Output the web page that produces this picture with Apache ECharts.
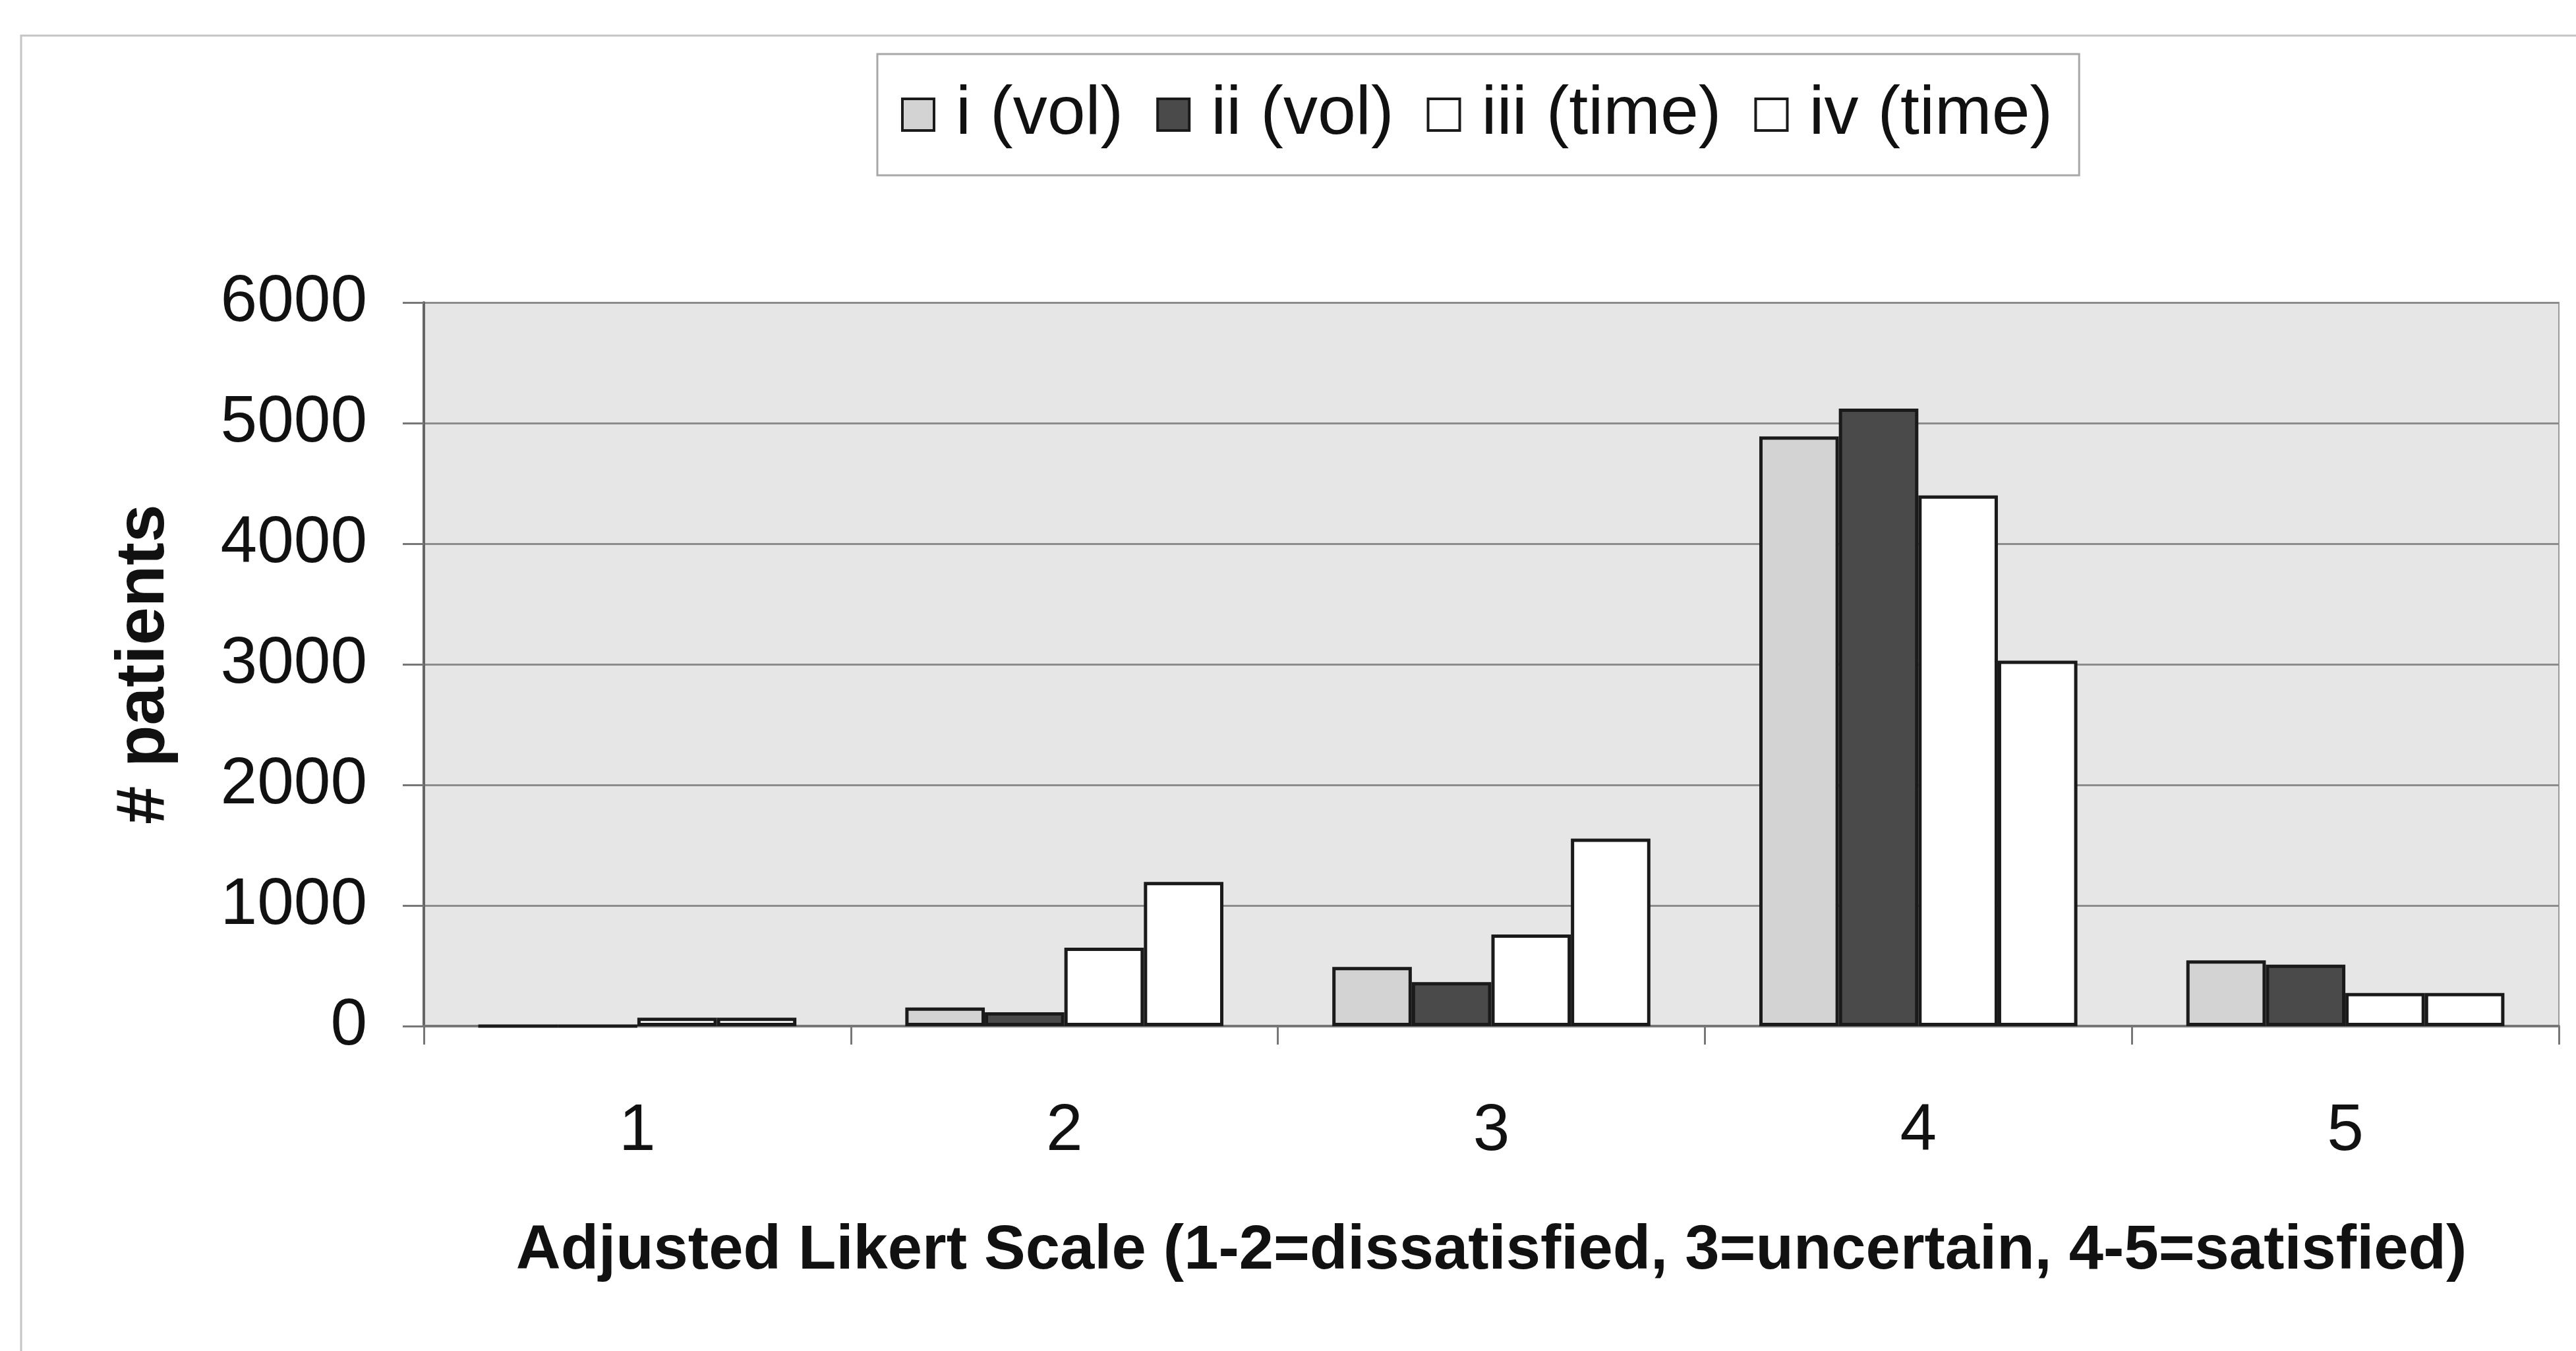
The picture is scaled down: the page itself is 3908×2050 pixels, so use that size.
<!DOCTYPE html>
<html>
<head>
<meta charset="utf-8">
<script src="https://cdn.jsdelivr.net/npm/echarts@6/dist/echarts.min.js"></script>
<style>html,body{margin:0;padding:0;background:#fff}#c{width:3908px;height:2050px}</style>
</head>
<body>
<div id="c"></div>
<script>
const categories = ['1', '2', '3', '4', '5'];
const seriesNames = ['i (vol)', 'ii (vol)', 'iii (time)', 'iv (time)'];
const volI = [0, 155, 490, 4890, 545];
const volII = [0, 115, 365, 5120, 510];
const timeIII = [70, 650, 760, 4400, 275];
const timeIV = [70, 1195, 1555, 3030, 275];
const yTicks = [0, 1000, 2000, 3000, 4000, 5000, 6000];
const xTitle = 'Adjusted Likert Scale (1-2=dissatisfied, 3=uncertain, 4-5=satisfied)';
const yTitle = '# patients';

const fills = ['#d3d3d3', '#4a4a4a', '#ffffff', '#ffffff'];
const allData = [volI, volII, timeIII, timeIV];
const FONT = '"Liberation Sans", Arial, sans-serif';

const chart = echarts.init(document.getElementById('c'), null, {renderer: 'canvas'});
chart.setOption({
  backgroundColor: '#ffffff',
  animation: false,
  textStyle: {fontFamily: FONT},
  graphic: [{
    type: 'polyline',
    shape: {points: [[32, 2050], [32, 54], [3908, 54]]},
    style: {stroke: '#c4c4c4', lineWidth: 3, fill: null},
    silent: true
  }],
  legend: {
    data: seriesNames,
    left: 1331,
    top: 82,
    orient: 'horizontal',
    padding: [40, 40, 40, 36],
    itemGap: 50,
    itemWidth: 48,
    itemHeight: 48,
    icon: 'rect',
    borderColor: '#a8a8a8',
    borderWidth: 3,
    backgroundColor: '#ffffff',
    itemStyle: {borderColor: '#1a1a1a', borderWidth: 4},
    textStyle: {fontFamily: FONT, fontSize: 104, color: '#111', padding: [0, 0, 0, 28]}
  },
  grid: {
    left: 643,
    right: 26,
    top: 459,
    bottom: 493,
    show: true,
    backgroundColor: '#e6e6e6',
    borderColor: '#9a9a9a',
    borderWidth: 2,
    containLabel: false
  },
  xAxis: {
    type: 'category',
    data: categories,
    boundaryGap: true,
    name: xTitle,
    nameLocation: 'middle',
    nameGap: 295,
    nameTextStyle: {fontFamily: FONT, fontSize: 94, fontWeight: 'bold', color: '#111'},
    axisLine: {show: true, lineStyle: {color: '#777', width: 4}},
    axisTick: {show: true, alignWithLabel: false, length: 28, lineStyle: {color: '#777', width: 3}},
    axisLabel: {fontFamily: FONT, fontSize: 100, color: '#111', margin: 110},
    splitLine: {show: false}
  },
  yAxis: {
    type: 'value',
    min: 0,
    max: 6000,
    interval: 1000,
    name: yTitle,
    nameLocation: 'middle',
    nameGap: 372,
    nameRotate: 90,
    nameTextStyle: {fontFamily: FONT, fontSize: 104, fontWeight: 'bold', color: '#111'},
    axisLine: {show: true, lineStyle: {color: '#666', width: 4}},
    axisTick: {show: true, inside: false, length: 32, lineStyle: {color: '#777', width: 3}},
    axisLabel: {fontFamily: FONT, fontSize: 100, color: '#111', margin: 86,
      formatter: function (v) { return yTicks.indexOf(v) >= 0 ? String(v) : ''; }},
    splitLine: {show: true, lineStyle: {color: '#8c8c8c', width: 3}}
  },
  series: seriesNames.map(function (name, i) {
    return {
      name: name,
      type: 'bar',
      data: allData[i],
      barGap: '0%',
      barCategoryGap: '25.5%',
      itemStyle: {color: fills[i], borderColor: '#1a1a1a', borderWidth: 5},
      emphasis: {disabled: true}
    };
  })
});
</script>
</body>
</html>
